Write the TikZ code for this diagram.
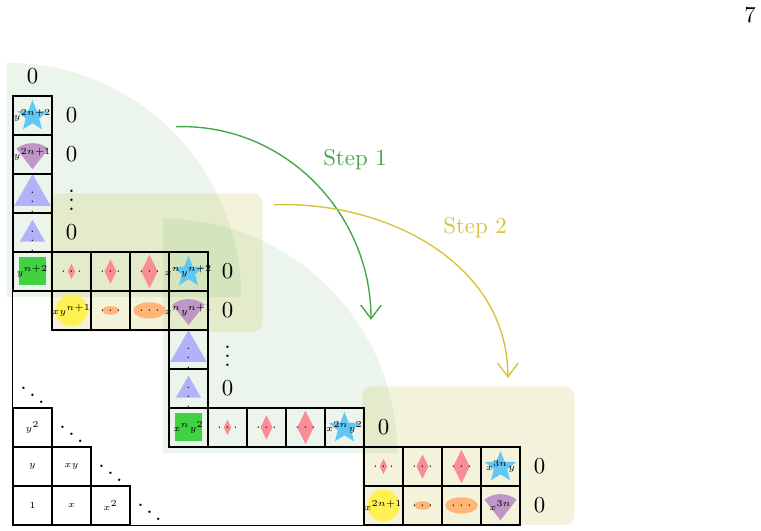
\documentclass[tikz,border=0pt]{standalone}
\usetikzlibrary{shapes.geometric,arrows.meta}
\definecolor{stepgreen}{RGB}{70,165,70}
\definecolor{stepyellow}{RGB}{215,195,60}
\definecolor{starblue}{RGB}{95,200,245}
\definecolor{kitepurple}{RGB}{190,150,200}
\definecolor{tripurple}{RGB}{178,178,250}
\definecolor{diapink}{RGB}{250,140,150}
\definecolor{circyellow}{RGB}{255,242,80}
\definecolor{ellorange}{RGB}{255,180,120}
\definecolor{sqgreen}{RGB}{65,210,65}
\begin{document}
\begin{tikzpicture}[x=0.6cm,y=0.6cm,
    cell/.style = {draw, semithick, minimum size=0.6cm, inner sep=0pt},
    celltext/.style = {font=\tiny, inner sep=0pt},
    starfig/.style = {star, star points=5, star point ratio=2.3, fill=starblue,
                minimum size=0.5cm, inner sep=0pt},
    trifig/.style = {regular polygon, regular polygon sides=3, fill=tripurple,
                minimum size=#1, inner sep=0pt},
    diafig/.style = {diamond, fill=diapink, minimum width=#1*0.5, minimum height=#1,
                inner sep=0pt},
    ellfig/.style = {ellipse, fill=ellorange, minimum width=#1, minimum height=#1*0.5,
                inner sep=0pt},
    circfig/.style = {circle, fill=circyellow, minimum size=0.49cm, inner sep=0pt},
    sqfig/.style = {fill=sqgreen, minimum size=0.43cm, inner sep=0pt},
    greenshade/.style = {fill=stepgreen, opacity=0.11},
    yellowshade/.style = {fill={rgb,255:red,190;green,190;blue,60}, opacity=0.18,
                rounded corners=0.15cm},
    steparrow/.style = {semithick, -{Straight Barb[length=6pt,width=9pt]}}
                    ]
        \useasboundingbox (-0.333,-0.154) rectangle (19.18,13.46);
        % shaded regions
        \fill[greenshade] (-0.15,5.85) -- ++(6,0) arc[start angle=0,end angle=90,radius=6] -- cycle;
        \fill[greenshade] (3.85,1.85) -- ++(6,0) arc[start angle=0,end angle=90,radius=6] -- cycle;
        \fill[yellowshade] (0.95,4.95) rectangle (6.4,8.5);
        \fill[yellowshade] (8.95,0) rectangle (14.4,3.55);
        % kite shapes
        \foreach \x/\y in {0/9, 4/5, 12/0}
            \fill[kitepurple] (\x+0.5,\y+0.12) -- ++(52:0.67) arc[start angle=52,end angle=128,radius=0.67] -- cycle;
        % figures
        \foreach \x/\y/\n in {0/10/sa, 4/6/sb, 8/2/sc, 12/1/sd}
            \node[starfig] (\n) at (\x+0.5,\y+0.48) {};
        \foreach \x/\y/\s/\n in {0/7/0.45cm/ta, 0/8/0.65cm/tb, 4/3/0.45cm/tc, 4/4/0.65cm/td}
            \node[trifig=\s] (\n) at (\x+0.5,\y+0.45) {};
        \foreach \x/\y/\s/\n in {1/6/0.24cm/da, 2/6/0.38cm/db, 3/6/0.52cm/dc,
                                 5/2/0.24cm/dd, 6/2/0.38cm/de, 7/2/0.52cm/df,
                                 9/1/0.24cm/dg, 10/1/0.38cm/dh, 11/1/0.52cm/di}
            \node[diafig=\s] (\n) at (\x+0.5,\y+0.5) {};
        \foreach \x/\y/\s/\n in {2/5/0.26cm/ea, 3/5/0.5cm/eb, 10/0/0.26cm/ec, 11/0/0.5cm/ed}
            \node[ellfig=\s] (\n) at (\x+0.5,\y+0.5) {};
        \foreach \n in {ta,tb,tc,td}
            \node[celltext] at (\n) {$\vdots$};
        \foreach \n in {da,db,dc,dd,de,df,dg,dh,di,ea,eb,ec,ed}
            \node[celltext] at (\n) {$\cdots$};
        \foreach \x/\y/\n in {1/5/ca, 9/0/cb}
            \node[circfig] (\n) at (\x+0.5,\y+0.5) {};
        \foreach \x/\y/\n in {0/6/qa, 4/2/qb}
            \node[sqfig] (\n) at (\x+0.5,\y+0.5) {};
        % cells
        \foreach \x/\y/\l in {0/0/1, 1/0/x, 2/0/x^2, 0/1/y, 1/1/xy, 0/2/y^2,
                0/6/y^{n+2}, 0/7/, 0/8/, 0/9/y^{2n+1}, 0/10/y^{2n+2},
                1/6/, 2/6/, 3/6/, 4/6/x^ny^{n+2},
                1/5/xy^{n+1}, 2/5/, 3/5/, 4/5/x^ny^{n+1},
                4/4/, 4/3/, 4/2/x^ny^2, 5/2/, 6/2/, 7/2/, 8/2/x^{2n}y^2,
                9/1/, 10/1/, 11/1/, 12/1/x^{3n}y,
                9/0/x^{2n+1}, 10/0/, 11/0/, 12/0/x^{3n}}
            {
            \node[cell] (c-\x-\y) at (\x+0.5,\y+0.5) {};
            \node[celltext, scale=0.8] at (c-\x-\y) {$\l$};
            }
        \draw[semithick] (c-0-0.south west) -- (c-0-6.south west);
        \draw[semithick] (c-0-0.south west) -- (c-9-0.south west);
        % zeros and dots
        \foreach \x/\y/\n in {0.5/11.5/za, 1.5/10.5/zb, 1.5/9.5/zc, 1.5/7.5/zd,
                              5.5/6.5/ze, 5.5/5.5/zf, 5.5/3.5/zg, 9.5/2.5/zh,
                              13.5/1.5/zi, 13.5/0.5/zj}
            \node (\n) at (\x,\y) {$0$};
        \node[inner sep=0pt] (va) at (1.5,8.5) {$\vdots$};
        \node[inner sep=0pt] (vb) at (5.5,4.5) {$\vdots$};
        \foreach \x/\y/\n in {0.5/3.5/oa, 1.5/2.5/ob, 2.5/1.5/oc, 3.5/0.5/od}
            \node (\n) at (\x,\y) {$\ddots$};
        % steps
        \coordinate (s1) at (4.18,10.21);
        \coordinate (e1) at (9.18,5.26);
        \coordinate (s2) at (6.69,8.21);
        \coordinate (e2) at (12.69,3.77);
        \draw[steparrow, stepgreen] (s1) to[out=2,in=90] (e1);
        \draw[steparrow, stepyellow] (s2) to[out=2,in=90] (e2);
        \node[text=stepgreen] (l1) at (8.77,9.36) {Step 1};
        \node[text=stepyellow] (l2) at (11.85,7.62) {Step 2};
        \node (page) at (18.9,13.08) {7};
    \end{tikzpicture}
\end{document}
